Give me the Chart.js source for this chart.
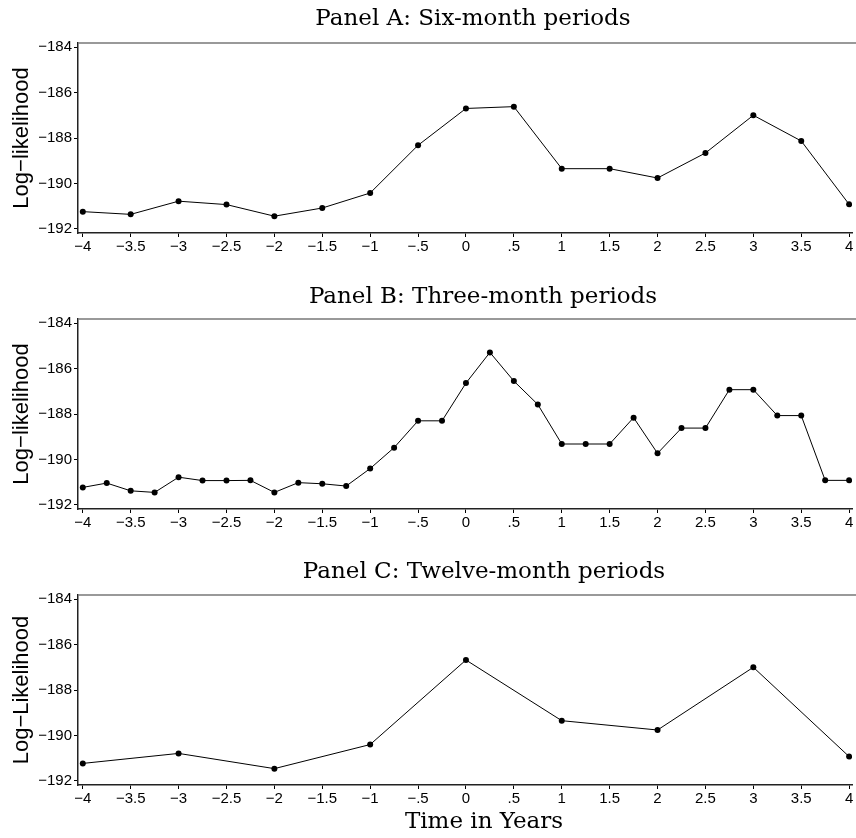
<!DOCTYPE html>
<html>
<head>
<meta charset="utf-8">
<script src="https://cdn.jsdelivr.net/npm/chart.js@4"></script>
<style>
	body { margin: 0; background: #fff; overflow: hidden; }
	.panel { position: absolute; left: 0; width: 856px; height: 262px; }
	.title { position: absolute; left: 178px; width: 600px; text-align: center;
		font-family: "DejaVu Serif", serif; font-size: 23px; line-height: 24px; color: #000; }
</style>
</head>
<body>
<div class="panel" style="top:0px"><canvas id="chartA" width="856" height="262"></canvas></div>
<div class="panel" style="top:276px"><canvas id="chartB" width="856" height="262"></canvas></div>
<div class="panel" style="top:552px"><canvas id="chartC" width="856" height="262"></canvas></div>
<div class="title" style="top:5px;left:173px">Panel A: Six-month periods</div>
<div class="title" style="top:283px;left:183px">Panel B: Three-month periods</div>
<div class="title" style="top:558px;left:184px">Panel C: Twelve-month periods</div>
<div class="title" style="top:808px;left:184px">Time in Years</div>
<script>
// x positions (years) for each panel
const yearsA = [-4, -3.5, -3, -2.5, -2, -1.5, -1, -0.5, 0, 0.5, 1, 1.5, 2, 2.5, 3, 3.5, 4];
const yearsB = [-4, -3.75, -3.5, -3.25, -3, -2.75, -2.5, -2.25, -2, -1.75, -1.5, -1.25, -1, -0.75, -0.5, -0.25,
	0, 0.25, 0.5, 0.75, 1, 1.25, 1.5, 1.75, 2, 2.25, 2.5, 2.75, 3, 3.25, 3.5, 3.75, 4];
const yearsC = [-4, -3, -2, -1, 0, 1, 2, 3, 4];

// log-likelihood values
const llA = [-191.24, -191.36, -190.78, -190.93, -191.44, -191.08, -190.42, -188.32, -186.70,
	-186.62, -189.35, -189.35, -189.76, -188.66, -187.00, -188.13, -190.92];
const llB = [-191.23, -191.04, -191.38, -191.45, -190.78, -190.93, -190.93, -190.92, -191.45,
	-191.02, -191.07, -191.17, -190.40, -189.48, -188.30, -188.30, -186.64, -185.29, -186.55,
	-187.58, -189.32, -189.32, -189.32, -188.16, -189.73, -188.62, -188.62, -186.93, -186.93,
	-188.07, -188.07, -190.92, -190.92];
const llC = [-191.23, -190.79, -191.46, -190.40, -186.68, -189.35, -189.76, -187.00, -190.93];

// axis ticks
const xTickVals = [-4, -3.5, -3, -2.5, -2, -1.5, -1, -0.5, 0, 0.5, 1, 1.5, 2, 2.5, 3, 3.5, 4];
const xTickLabels = ["\u22124", "\u22123.5", "\u22123", "\u22122.5", "\u22122", "\u22121.5", "\u22121", "\u2212.5",
	"0", ".5", "1", "1.5", "2", "2.5", "3", "3.5", "4"];
const yTickVals = [-184, -186, -188, -190, -192];
const yTickLabels = ["\u2212184", "\u2212186", "\u2212188", "\u2212190", "\u2212192"];

const topBorder = {
	id: "topBorder",
	afterDraw(chart) {
		const { ctx, chartArea } = chart;
		ctx.save();
		ctx.strokeStyle = "#777";
		ctx.lineWidth = 1.4;
		ctx.beginPath();
		ctx.moveTo(chartArea.left, chartArea.top);
		ctx.lineTo(chart.width, chartArea.top);
		ctx.stroke();
		ctx.restore();
	},
};

const tickFont = { family: "Liberation Sans", size: 15 };

const makeChart = (id, xs, ys, yTitle) => {
	return new Chart(document.getElementById(id), {
		type: "line",
		data: {
			datasets: [
				{
					data: xs.map((x, i) => ({ x: x, y: ys[i] })),
					borderColor: "#000",
					borderWidth: 1,
					pointRadius: 3,
					pointBorderWidth: 0,
					pointBackgroundColor: "#000",
					tension: 0,
				},
			],
		},
		options: {
			responsive: false,
			animation: false,
			layout: { padding: { top: 43, left: 0, right: 0, bottom: 0 } },
			plugins: { legend: { display: false }, tooltip: { enabled: false } },
			scales: {
				x: {
					type: "linear",
					min: -4.05,
					max: 4.03,
					afterBuildTicks: (scale) => {
						scale.ticks = xTickVals.map((v) => ({ value: v }));
					},
					afterFit: (scale) => {
						scale.height = 29;
					},
					grid: { display: true, drawOnChartArea: false, drawTicks: true, tickLength: 4, color: "#000" },
					border: { display: true, color: "#222", width: 1.5 },
					ticks: {
						autoSkip: false,
						maxRotation: 0,
						padding: 1,
						color: "#000",
						font: tickFont,
						callback: (v) => xTickLabels[xTickVals.indexOf(v)],
					},
				},
				y: {
					min: -192.18,
					max: -183.82,
					afterBuildTicks: (scale) => {
						scale.ticks = yTickVals.map((v) => ({ value: v }));
					},
					afterFit: (scale) => {
						scale.width = 78;
					},
					grid: { display: true, drawOnChartArea: false, drawTicks: true, tickLength: 4, color: "#000" },
					border: { display: true, color: "#222", width: 1.5 },
					title: {
						display: true,
						text: yTitle,
						color: "#000",
						font: { family: "Liberation Sans", size: 22, lineHeight: 1 },
						padding: { top: 11, bottom: 0 },
					},
					ticks: {
						padding: 2,
						color: "#000",
						font: tickFont,
						callback: (v) => yTickLabels[yTickVals.indexOf(v)],
					},
				},
			},
		},
		plugins: [topBorder],
	});
};

makeChart("chartA", yearsA, llA, "Log\u2212likelihood");
makeChart("chartB", yearsB, llB, "Log\u2212likelihood");
makeChart("chartC", yearsC, llC, "Log\u2212Likelihood");
</script>
</body>
</html>
